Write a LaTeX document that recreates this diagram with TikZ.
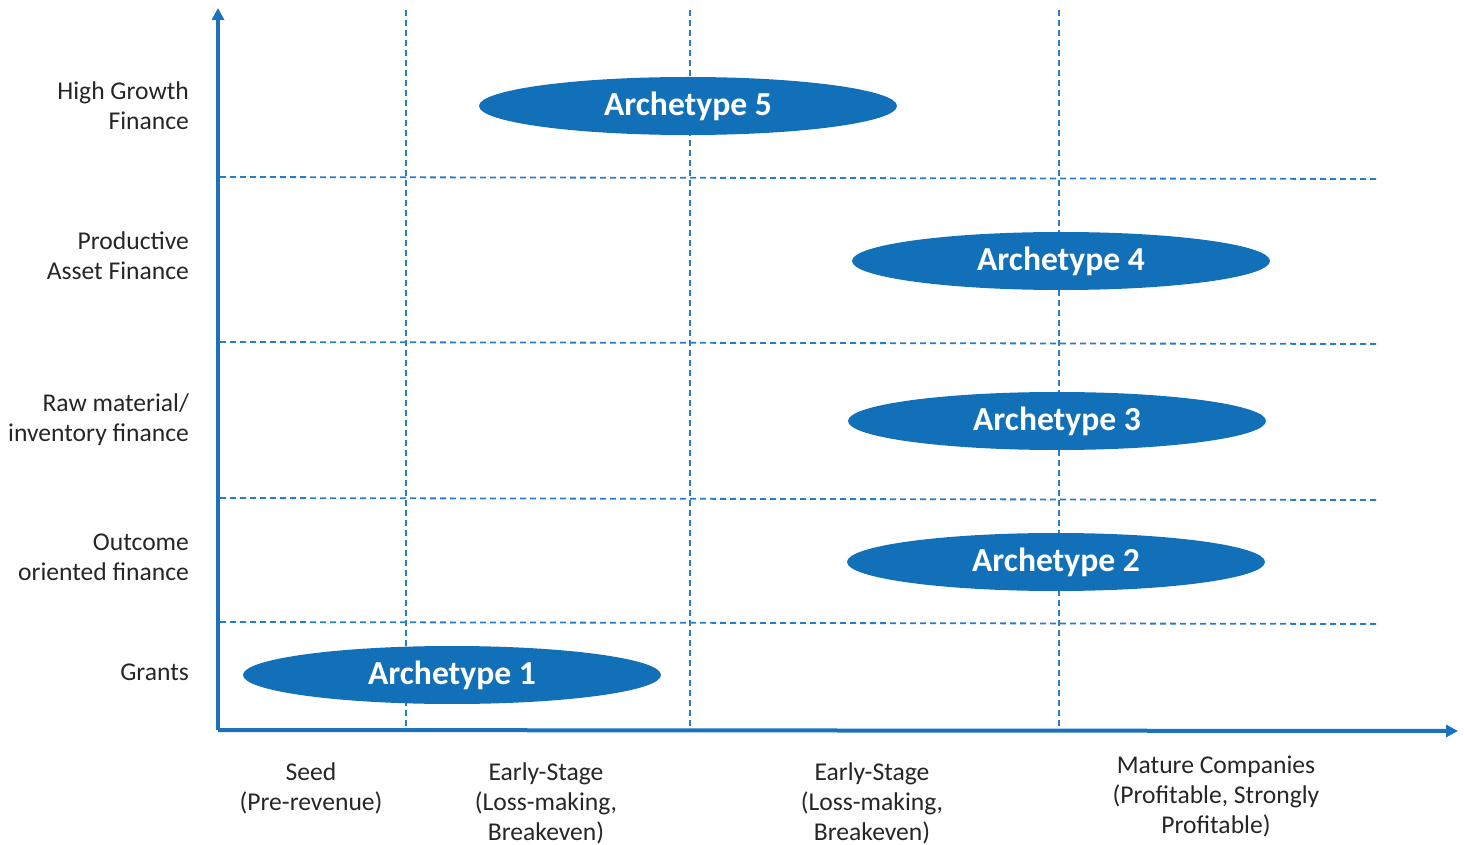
\documentclass[tikz,border=0pt]{standalone}
\usepackage{fontspec}
\setmainfont{Carlito}
\usetikzlibrary{arrows.meta,shapes.geometric}
\definecolor{ink}{HTML}{262626}
\definecolor{axs}{HTML}{1A72BD}
\definecolor{grd}{HTML}{2B7CC6}
\definecolor{arc}{HTML}{1170B8}
\tikzset{
  axis/.style={line width=2pt,axs,-{Triangle[length=6pt,width=6pt]}},
  grid/.style={line width=.9pt,grd,dash pattern=on 3pt off 2pt},
  ylbl/.style={font=\fontsize{12.8}{15}\selectfont,text=ink,align=right,anchor=east},
  xlbl/.style={font=\fontsize{12.8}{15}\selectfont,text=ink,align=center},
  arch/.style={ellipse,fill=arc,inner sep=0pt,minimum width=209pt,minimum height=29pt,font=\fontsize{16.8}{19}\bfseries,text=white},
}
\begin{document}
\begin{tikzpicture}[x=0.5pt,y=-0.5pt]
\useasboundingbox (0,0) rectangle (1464,845);
% grid
\foreach \gx in {406,690,1059} \draw[grid] (\gx,10) -- (\gx,730);
\foreach \gy/\gz in {177/179,342/344,498/500,622/624} \draw[grid] (220,\gy) -- (1378,\gz);
% axes
\coordinate (o) at (218,730);
\coordinate (ytop) at (218,8);
\coordinate (xend) at (1458,731);
\draw[axis] (o) -- (ytop);
\draw[axis] (o) -- (xend);
% archetypes
\node[arch] (arc5) at (688,106) {Archetype 5};
\node[arch] (arc4) at (1061,261) {Archetype 4};
\node[arch] (arc3) at (1057,421) {Archetype 3};
\node[arch] (arc2) at (1056,562) {Archetype 2};
\node[arch] (arc1) at (452,675) {Archetype 1};
% row labels
\node[ylbl] (r5) at (196,106) {High Growth\\Finance};
\node[ylbl] (r4) at (196,256) {Productive\\Asset Finance};
\node[ylbl] (r3) at (196,420) {Raw material/\\inventory finance};
\node[ylbl] (r2) at (196,557) {Outcome\\oriented finance};
\node[ylbl] (r1) at (196,672) {Grants};
% column labels
\node[xlbl] (c1) at (311,788) {Seed\\(Pre-revenue)};
\node[xlbl] (c2) at (546,803) {Early-Stage\\(Loss-making,\\Breakeven)};
\node[xlbl] (c3) at (872,803) {Early-Stage\\(Loss-making,\\Breakeven)};
\node[xlbl] (c4) at (1216,796) {Mature Companies\\(Profitable, Strongly\\Profitable)};
\end{tikzpicture}
\end{document}
